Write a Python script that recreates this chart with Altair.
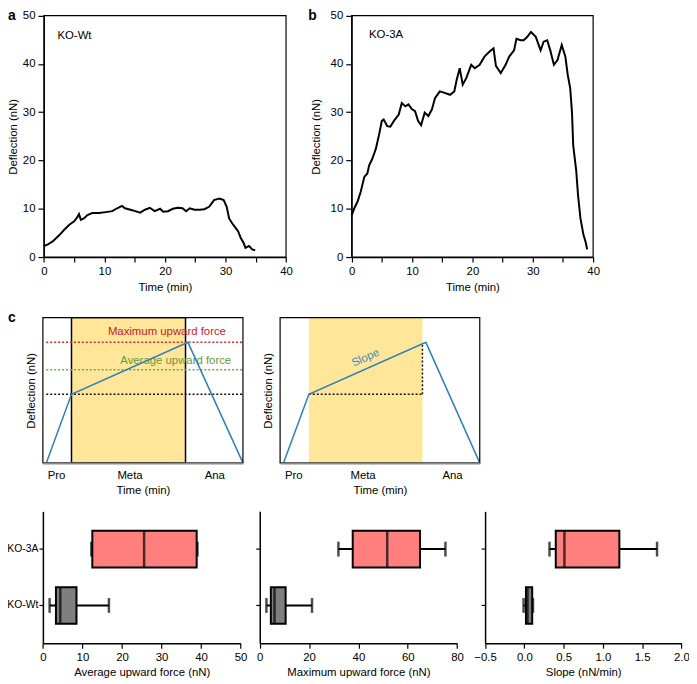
import altair as alt
import pandas as pd

FONT = "Liberation Sans"

# ---------------- panel a / b traces ----------------
a_time = [0, 0.65, 1.5, 2.6, 3.4, 4.2, 5.0, 5.5, 5.8, 6.1, 6.6, 7.2, 8.0, 9.1, 10.2, 11.3,
          12.1, 12.9, 13.4, 14.3, 15.1, 15.9, 16.7, 17.5, 18.3, 19.2, 19.7, 20.5, 21.3,
          22.1, 22.9, 23.5, 24.1, 24.9, 25.7, 26.5, 27.3, 28.1, 29.0, 29.7, 30.2, 30.6,
          31.1, 31.7, 32.1, 32.5, 33.0, 33.3, 33.9, 34.4, 34.9]
a_defl = [2.25, 2.6, 3.3, 4.6, 5.7, 6.7, 7.4, 8.2, 8.9, 7.7, 8.0, 8.7, 9.1, 9.1, 9.3, 9.5,
          10.1, 10.6, 10.1, 9.8, 9.5, 9.2, 9.8, 10.2, 9.5, 10.0, 9.4, 9.5, 10.0,
          10.2, 10.1, 9.5, 10.1, 9.8, 9.8, 9.9, 10.4, 11.8, 12.1, 11.8, 10.4, 8.0,
          7.0, 6.0, 5.3, 4.0, 2.9, 1.9, 2.3, 1.6, 1.4]

b_time = [0, 0.44, 0.98, 1.5, 2.1, 2.6, 2.9, 3.4, 4.0, 4.5, 5.0, 5.3, 5.9, 6.4, 7.0, 7.8,
          8.3, 8.9, 9.4, 10.0, 10.5, 11.0, 11.5, 12.1, 12.7, 13.3, 13.8, 14.6, 15.4, 16.3,
          17.0, 17.4, 17.9, 18.4, 19.0, 19.8, 20.4, 21.2, 22.0, 22.8, 23.5, 23.9, 24.7,
          25.5, 26.1, 26.9, 27.3, 28.0, 28.5, 29.1, 29.7, 30.5, 31.3, 31.8, 32.4, 32.9,
          33.5, 34.1, 34.8, 35.4, 35.8, 36.2, 36.5, 36.7, 37.2, 37.5, 37.9, 38.4, 38.8, 39.0]
b_defl = [8.7, 10.1, 11.5, 13.5, 16.6, 17.3, 19.0, 20.3, 22.4, 25.1, 28.2, 28.5, 27.1,
          27.0, 28.2, 29.5, 31.9, 31.2, 31.6, 30.6, 30.2, 28.2, 27.3, 29.9, 29.2, 30.6,
          32.9, 34.3, 34.0, 33.6, 34.3, 36.7, 39.1, 35.7, 37.1, 39.8, 39.1, 39.8, 41.5,
          42.5, 43.2, 39.6, 38.1, 39.8, 41.5, 42.8, 45.2, 44.9, 44.9, 45.6, 46.6, 45.6,
          42.8, 44.6, 44.9, 42.8, 39.8, 40.8, 43.9, 41.5, 37.7, 35.0, 29.9, 23.1, 17.9,
          12.8, 8.0, 4.6, 2.9, 1.6]
trace_labels = ["KO-Wt", "KO-3A"]
trace_label_t = [2.24, 2.88]
trace_label_d = [45.85, 46.05]

# ---------------- panel c schematics (arbitrary units 0-100) ----------------
phase_labels = ["Pro", "Meta", "Ana"]
c1_label_pos = [6.6, 43.3, 85.7]
c2_label_pos = [6.6, 41.3, 86.1]
c1_line_x = [1.7, 14.3, 72.5, 100]
c1_line_y = [0, 47.3, 83, 0]
c2_line_x = [1.7, 14.4, 73.0, 100]
c2_line_y = [0, 47.3, 83, 0]
c1_meta = [14.3, 71.3]
c2_meta = [14.4, 71.3]
c1_levels = [83, 64.1, 47.3]
c1_level_colors = ["#E02424", "#6DAA45", "#111111"]
c1_texts = ["Maximum upward force", "Average upward force"]
c1_text_x = [62.0, 66.4]
c1_text_y = [90.2, 70.3]
c1_text_colors = ["#C8201E", "#6A9A3C"]
c2_vert_top = 82
slope_text = ["Slope"]
slope_x = [42.9]
slope_y = [72.1]

# ---------------- box plot statistics ----------------
groups = ["KO-3A", "KO-Wt"]
box_fill = ["#FF7F7F", "#7F7F7F"]
avg_low, avg_q1, avg_med, avg_q3, avg_high = [12.25, 1.7], [12.5, 3.3], [25.6, 4.4], [38.9, 8.5], [39.1, 16.7]
max_low, max_q1, max_med, max_q3, max_high = [31.9, 2.7], [37.7, 4.5], [51.7, 6.0], [65.0, 10.5], [75.3, 21.2]
slp_low, slp_q1, slp_med, slp_q3, slp_high = [0.32, -0.01], [0.40, 0.02], [0.51, 0.04], [1.21, 0.10], [1.69, 0.11]

# ---------------- layout (page pixels) ----------------
M = 8                 # page margin
W, H = 689, 676       # whole drawing area
# vertical ranges are given as (bottom, top)
A_X, B_X, AB_Y = (44.3, 289.3), (355.7, 600.0), (256.0, 11.7)
C1_X, C2_X, C_Y = (43.3, 245.7), (283.3, 485.3), (464.3, 317.3)
BX1, BX2, BX3, BY = (43.3, 243.3), (262.7, 462.3), (490.7, 689.3), (646.7, 513.3)

BLUE = "#2F7FB8"
YELLOW = "#FFE699"


def rng(r):
    return [r[0] - M, r[1] - M]


def qscale(domain, r):
    return alt.Scale(domain=domain, range=rng(r), nice=False, zero=False)


def bottom_offset(yr):
    return (yr[0] - M) - H


def left_offset(xr):
    return -(xr[0] - M)


def ytitle_mid(yr):
    return (yr[0] + yr[1]) / 2 - M


def letter(ch, x, y):
    return alt.Chart(pd.DataFrame({"t": [ch]})).mark_text(
        align="left", baseline="alphabetic", fontSize=14, fontWeight="bold",
        font=FONT, color="black"
    ).encode(x=alt.value(x - M), y=alt.value(y - M), text="t:N")


def frame(xdom, ydom, xs, ys):
    fdf = pd.DataFrame({"x1": [xdom[0]], "x2": [xdom[1]], "y1": [ydom[0]], "y2": [ydom[1]]})
    return alt.Chart(fdf).mark_rect(fill="transparent", stroke="black", strokeWidth=1.2).encode(
        x=alt.X("x1:Q", scale=xs, axis=None), x2="x2:Q",
        y=alt.Y("y1:Q", scale=ys, axis=None), y2="y2:Q")


def trace_panel(t, d, xr, idx, let, let_xy, title_x):
    xdom, ydom = [0, 40], [0, 50]
    xs, ys = qscale(xdom, xr), qscale(ydom, AB_Y)
    df = pd.DataFrame({"t": t, "d": d})
    line = alt.Chart(df).mark_line(color="black", strokeWidth=2).encode(
        x=alt.X("t:Q", scale=xs,
                axis=alt.Axis(orient="bottom", offset=bottom_offset(AB_Y),
                              values=list(range(0, 41, 5)),
                              labelExpr="datum.value % 10 == 0 ? datum.label : ''",
                              title="Time (min)", tickSize=5, labelPadding=3.5,
                              titlePadding=5)),
        y=alt.Y("d:Q", scale=ys,
                axis=alt.Axis(orient="left", offset=left_offset(xr),
                              values=[0, 10, 20, 30, 40, 50], title="Deflection (nN)",
                              tickSize=6, labelPadding=3, titleX=title_x,
                              titleY=ytitle_mid(AB_Y), titleAngle=270,
                              titleBaseline="bottom", titleAlign="center")),
        order="t:Q",
    )
    ldf = pd.DataFrame({"x": [trace_label_t[idx]], "y": [trace_label_d[idx]],
                        "t": [trace_labels[idx]]})
    lbl = alt.Chart(ldf).mark_text(align="left", baseline="middle", fontSize=11.5,
                                   font=FONT, color="black").encode(
        x=alt.X("x:Q", scale=xs, axis=None), y=alt.Y("y:Q", scale=ys, axis=None), text="t:N")
    return [line, lbl, frame(xdom, ydom, xs, ys), letter(let, *let_xy)]


def label_expr(pos, labels):
    parts = []
    for i in range(len(labels) - 1):
        cut = (pos[i] + pos[i + 1]) / 2
        parts.append(f"datum.value < {cut} ? '{labels[i]}' : ")
    return "".join(parts) + f"'{labels[-1]}'"


def schematic(xr, line_x, line_y, meta, label_pos, outline, extra_layers, with_letter):
    dom = [0, 100]
    xs, ys = qscale(dom, xr), qscale(dom, C_Y)
    rect_df = pd.DataFrame({"x1": [meta[0]], "x2": [meta[1]], "y1": [0], "y2": [100]})
    rect_kw = dict(color=YELLOW)
    if outline:
        rect_kw.update(stroke="black", strokeWidth=1.5)
    rect = alt.Chart(rect_df).mark_rect(**rect_kw).encode(
        x=alt.X("x1:Q", scale=xs,
                axis=alt.Axis(orient="bottom", offset=bottom_offset(C_Y), values=label_pos,
                              labelExpr=label_expr(label_pos, phase_labels),
                              title="Time (min)", ticks=False, tickSize=0, labelPadding=6.3,
                              titlePadding=4, domainColor="#8a8a8a", domainWidth=2,
                              zindex=1)),
        x2="x2:Q",
        y=alt.Y("y1:Q", scale=ys,
                axis=alt.Axis(orient="left", offset=left_offset(xr),
                              title="Deflection (nN)", labels=False, ticks=False,
                              domain=False, titleX=-6.3, titleY=ytitle_mid(C_Y),
                              titleAngle=270, titleBaseline="bottom", titleAlign="center")),
        y2="y2:Q",
    )
    ldf = pd.DataFrame({"x": line_x, "y": line_y, "i": list(range(len(line_x)))})
    blue = alt.Chart(ldf).mark_line(color=BLUE, strokeWidth=1.5).encode(
        x=alt.X("x:Q", scale=xs, axis=None), y=alt.Y("y:Q", scale=ys, axis=None), order="i:Q")
    layers = [rect] + extra_layers(xs, ys) + [blue, frame(dom, dom, xs, ys)]
    if with_letter:
        layers.append(letter("c", 8, 322))
    return layers


def c1_extra(xs, ys):
    ddf = pd.DataFrame({"x1": [c1_line_x[0]] * 3, "x2": [100] * 3, "y": c1_levels,
                        "col": c1_level_colors})
    dots = alt.Chart(ddf).mark_rule(strokeDash=[2, 2], strokeWidth=1.5).encode(
        x=alt.X("x1:Q", scale=xs, axis=None), x2="x2:Q",
        y=alt.Y("y:Q", scale=ys, axis=None),
        color=alt.Color("col:N", scale=None))
    tdf = pd.DataFrame({"x": c1_text_x, "y": c1_text_y, "t": c1_texts, "col": c1_text_colors})
    txt = alt.Chart(tdf).mark_text(fontSize=11.5, font=FONT, align="center",
                                   baseline="middle").encode(
        x=alt.X("x:Q", scale=xs, axis=None), y=alt.Y("y:Q", scale=ys, axis=None), text="t:N",
        color=alt.Color("col:N", scale=None))
    return [dots, txt]


def c2_extra(xs, ys):
    hdf = pd.DataFrame({"x1": [c2_meta[0]], "x2": [c2_meta[1]], "y": [c2_line_y[1]]})
    h = alt.Chart(hdf).mark_rule(strokeDash=[2, 2], strokeWidth=1.5, color="#111111").encode(
        x=alt.X("x1:Q", scale=xs, axis=None), x2="x2:Q", y=alt.Y("y:Q", scale=ys, axis=None))
    vdf = pd.DataFrame({"x": [c2_meta[1]], "y1": [c2_line_y[1]], "y2": [c2_vert_top]})
    v = alt.Chart(vdf).mark_rule(strokeDash=[2, 2], strokeWidth=1.5, color="#111111").encode(
        x=alt.X("x:Q", scale=xs, axis=None), y=alt.Y("y1:Q", scale=ys, axis=None), y2="y2:Q")
    sdf = pd.DataFrame({"x": slope_x, "y": slope_y, "t": slope_text})
    s = alt.Chart(sdf).mark_text(fontSize=11.5, font=FONT, color="#3F8DB3", angle=336,
                                 align="center", baseline="middle").encode(
        x=alt.X("x:Q", scale=xs, axis=None), y=alt.Y("y:Q", scale=ys, axis=None), text="t:N")
    return [h, v, s]


def box_panel(xr, low, q1, med, q3, high, domain, values, title, show_labels, fmt):
    df = pd.DataFrame({"g": groups, "low": low, "q1": q1, "med": med, "q3": q3,
                       "high": high, "fill": box_fill})
    # band scale runs from top to bottom
    ys = alt.Scale(domain=groups, range=[BY[1] - M, BY[0] - M], paddingInner=0,
                   paddingOuter=0.17)
    xs = qscale(domain, xr)
    yaxis = alt.Axis(orient="left", offset=left_offset(xr), title=None, labels=show_labels,
                     tickSize=4, labelPadding=1, labelFontSize=10.5, domainWidth=1.5)
    xaxis = alt.Axis(orient="bottom", offset=bottom_offset(BY), values=values, title=title,
                     format=fmt, tickSize=5, labelPadding=3.2, titlePadding=4,
                     domainWidth=1.5)
    base = alt.Chart(df)
    whisk = base.mark_rule(color="black", strokeWidth=2).encode(
        x=alt.X("low:Q", scale=xs, axis=xaxis), x2="high:Q",
        y=alt.Y("g:N", scale=ys, axis=yaxis))
    box = base.mark_bar(size=37, stroke="black", strokeWidth=2).encode(
        x=alt.X("q1:Q", scale=xs, axis=None), x2="q3:Q", y=alt.Y("g:N", scale=ys, axis=None),
        color=alt.Color("fill:N", scale=None))
    medt = base.mark_tick(color="black", thickness=2.5, size=37).encode(
        x=alt.X("med:Q", scale=xs, axis=None), y=alt.Y("g:N", scale=ys, axis=None))
    lo = base.mark_tick(color="black", thickness=2.5, size=15).encode(
        x=alt.X("low:Q", scale=xs, axis=None), y=alt.Y("g:N", scale=ys, axis=None))
    hi = base.mark_tick(color="black", thickness=2.5, size=15).encode(
        x=alt.X("high:Q", scale=xs, axis=None), y=alt.Y("g:N", scale=ys, axis=None))
    return [whisk, box, medt, lo, hi]


units = []
units += trace_panel(a_time, a_defl, A_X, 0, "a", (8, 16), -25.3)
units += trace_panel(b_time, b_defl, B_X, 1, "b", (311.7, 16), -30.7)
units += schematic(C1_X, c1_line_x, c1_line_y, c1_meta, c1_label_pos, True, c1_extra, True)
units += schematic(C2_X, c2_line_x, c2_line_y, c2_meta, c2_label_pos, False, c2_extra, False)
units += box_panel(BX1, avg_low, avg_q1, avg_med, avg_q3, avg_high, [0, 50],
                   [0, 10, 20, 30, 40, 50], "Average upward force (nN)", True, "d")
units += box_panel(BX2, max_low, max_q1, max_med, max_q3, max_high, [0, 80],
                   [0, 20, 40, 60, 80], "Maximum upward force (nN)", False, "d")
units += box_panel(BX3, slp_low, slp_q1, slp_med, slp_q3, slp_high, [-0.5, 2.0],
                   [-0.5, 0, 0.5, 1.0, 1.5, 2.0], "Slope (nN/min)", False, ".1f")

chart = alt.layer(*units).resolve_scale(
    x="independent", y="independent"
).resolve_axis(
    x="independent", y="independent"
).properties(
    width=W, height=H, padding=0, autosize=alt.AutoSizeParams(type="none")
).configure_view(stroke="transparent").configure_axis(
    labelFont=FONT, titleFont=FONT, labelFontSize=11.5, titleFontSize=11.5,
    labelColor="black", titleColor="black", titleFontWeight="normal",
    domainColor="black", tickColor="black", grid=False, domainWidth=1.2, tickWidth=1.2,
    labelOverlap=False, labelFlush=False
)

chart.save("out.html", embed_options={"renderer": "svg", "actions": False})
